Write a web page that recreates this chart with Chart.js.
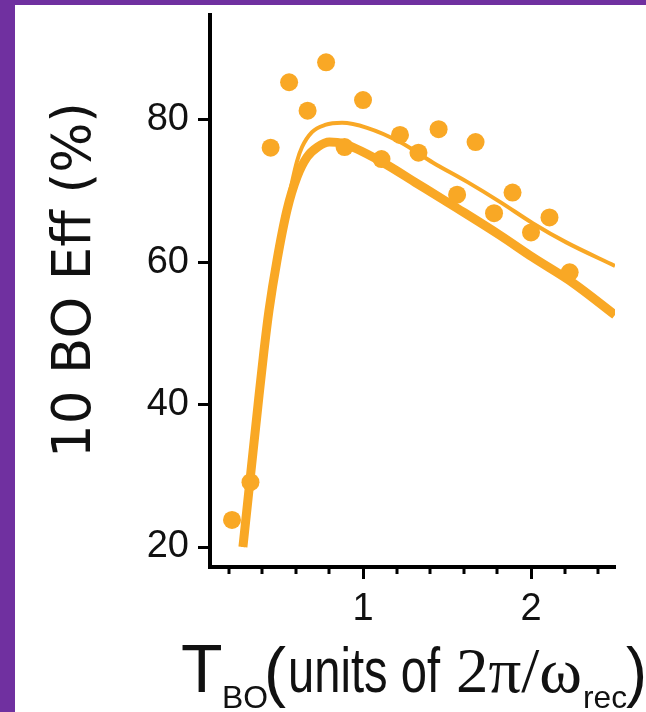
<!DOCTYPE html>
<html>
<head>
<meta charset="UTF-8">
<title>10 BO Eff vs T_BO</title>
<script src="https://cdn.jsdelivr.net/npm/chart.js"></script>
<style>
  html, body { margin: 0; padding: 0; background: #fff; }
  #wrap { width: 646px; height: 712px; }
</style>
</head>
<body>
<div id="wrap"><canvas id="effChart" width="646" height="712"></canvas></div>
<script>
// measured points (T_BO, efficiency %)
const tBo = [0.22, 0.33, 0.45, 0.56, 0.67, 0.78, 0.89, 1.0, 1.11, 1.22, 1.33, 1.45, 1.56, 1.67, 1.78, 1.89, 2.0, 2.11, 2.23];
const eff = [23.8, 29.1, 76.1, 85.3, 81.3, 88.1, 76.2, 82.8, 74.5, 77.9, 75.4, 78.7, 69.5, 76.9, 66.9, 69.8, 64.2, 66.3, 58.6];

// thick theory curve
const thickX = [0.285, 0.33, 0.375, 0.41, 0.44, 0.488, 0.548, 0.607, 0.667, 0.73, 0.80, 0.88, 1.12, 1.32, 1.56, 1.815, 2.01, 2.25, 2.5];
const thickY = [20, 30, 40, 47.5, 53.2, 60.3, 67.4, 72.0, 74.8, 76.2, 76.9, 76.7, 74.0, 71.1, 67.6, 63.8, 60.7, 57.1, 52.6];

// thin theory curve
const thinX = [0.285, 0.33, 0.375, 0.41, 0.44, 0.488, 0.548, 0.607, 0.637, 0.696, 0.774, 0.875, 1.024, 1.22, 1.417, 1.62, 1.815, 2.01, 2.21, 2.5];
const thinY = [20, 30, 40, 47.6, 53.4, 60.6, 68.0, 74.2, 76.2, 78.3, 79.3, 79.6, 78.9, 76.9, 74.0, 71.3, 68.5, 65.5, 62.8, 59.5];

const yTicks = [20, 40, 60, 80];
const xTicks = [0.2, 0.4, 0.6, 0.8, 1, 1.2, 1.4, 1.6, 1.8, 2, 2.2, 2.4];
const xLabels = [1, 2];

const orange = '#f9a825';
const purple = '#7030a0';
const ink = '#111';

function zip(xs, ys) {
    return xs.map((x, i) => ({ x: x, y: ys[i] }));
}

// draw a piece of text squeezed to a given advance width
function drawPiece(ctx, text, font, x, y, width) {
    ctx.save();
    ctx.font = font;
    const w = ctx.measureText(text).width;
    ctx.translate(x, y);
    if (width) ctx.scale(width / w, 1);
    ctx.fillText(text, 0, 0);
    ctx.restore();
}

const framePlugin = {
    id: 'frame',
    beforeDraw(chart) {
        const ctx = chart.ctx;
        ctx.save();
        ctx.fillStyle = '#fff';
        ctx.fillRect(0, 0, chart.width, chart.height);
        ctx.fillStyle = purple;
        ctx.fillRect(0, 0, chart.width, 5);
        ctx.fillRect(0, 0, 15, chart.height);
        ctx.restore();
    },
    afterDraw(chart) {
        const ctx = chart.ctx;
        const xs = chart.scales.x;
        const bottom = chart.chartArea.bottom;
        // minor ticks
        ctx.save();
        ctx.strokeStyle = '#000';
        ctx.lineWidth = 3;
        xTicks.filter(v => !xLabels.includes(v)).forEach(v => {
            const px = Math.round(xs.getPixelForValue(v));
            ctx.beginPath();
            ctx.moveTo(px, bottom);
            ctx.lineTo(px, bottom + 7);
            ctx.stroke();
        });
        ctx.restore();

        // axis titles
        ctx.save();
        ctx.fillStyle = ink;
        ctx.textBaseline = 'alphabetic';
        ctx.textAlign = 'left';
        ctx.save();
        ctx.translate(90, 458);
        ctx.rotate(-Math.PI / 2);
        drawPiece(ctx, '10 BO Eff (%)', '54px "DejaVu Sans"', 0, 0, 356);
        ctx.restore();

        drawPiece(ctx, 'T', '68px "Liberation Sans"', 181, 692);
        drawPiece(ctx, 'BO', '32px "Liberation Sans"', 222, 708, 46);
        drawPiece(ctx, '(', '66px "Liberation Sans"', 264, 694, 22);
        drawPiece(ctx, 'units of', '63px "Liberation Sans"', 288, 692, 152);
        drawPiece(ctx, '2\u03c0/\u03c9', '64px "Liberation Serif"', 456, 692, 126);
        drawPiece(ctx, 'rec', '32px "Liberation Sans"', 583, 708, 44);
        drawPiece(ctx, ')', '66px "Liberation Sans"', 626, 694, 21);
        ctx.restore();
    }
};

const ctx = document.getElementById('effChart').getContext('2d');
const effChart = new Chart(ctx, {
    type: 'scatter',
    data: {
        datasets: [
            {
                label: 'data',
                data: zip(tBo, eff),
                pointRadius: 9,
                pointBackgroundColor: orange,
                pointBorderWidth: 0,
                showLine: false
            },
            {
                type: 'line',
                label: 'thin',
                data: zip(thinX, thinY),
                borderColor: orange,
                borderWidth: 4,
                pointRadius: 0,
                fill: false,
                cubicInterpolationMode: 'monotone'
            },
            {
                type: 'line',
                label: 'thick',
                data: zip(thickX, thickY),
                borderColor: orange,
                borderWidth: 9,
                pointRadius: 0,
                fill: false,
                cubicInterpolationMode: 'monotone'
            }
        ]
    },
    options: {
        responsive: false,
        animation: false,
        devicePixelRatio: 1,
        layout: { padding: { top: 15, right: 31, left: 0, bottom: 0 } },
        plugins: {
            legend: { display: false },
            tooltip: { enabled: false }
        },
        scales: {
            x: {
                type: 'linear',
                min: 0.089,
                max: 2.5,
                afterBuildTicks: s => { s.ticks = xTicks.map(v => ({ value: v })); },
                afterFit: s => {
                    s.height = 145;
                    s.paddingLeft = 0; s.paddingRight = 0;
                },
                ticks: {
                    autoSkip: false,
                    maxRotation: 0,
                    padding: 8,
                    color: ink,
                    font: { family: 'Liberation Sans', size: 38 },
                    callback: v => xLabels.includes(v) ? String(v) : ''
                },
                grid: {
                    drawOnChartArea: false,
                    tickLength: 12,
                    tickWidth: 3,
                    tickColor: c => (c.tick && xLabels.includes(c.tick.value)) ? '#000' : 'rgba(0,0,0,0)'
                },
                border: { display: true, color: '#000', width: 4 }
            },
            y: {
                type: 'linear',
                min: 17.19,
                max: 94.75,
                afterBuildTicks: s => { s.ticks = yTicks.map(v => ({ value: v })); },
                afterFit: s => {
                    s.width = 210;
                    s.paddingTop = 0; s.paddingBottom = 0;
                },
                ticks: {
                    padding: 9,
                    color: ink,
                    font: { family: 'Liberation Sans', size: 38 }
                },
                grid: {
                    drawOnChartArea: false,
                    tickLength: 12,
                    tickWidth: 3,
                    tickColor: '#000'
                },
                border: { display: true, color: '#000', width: 4 }
            }
        }
    },
    plugins: [framePlugin]
});
</script>
</body>
</html>
